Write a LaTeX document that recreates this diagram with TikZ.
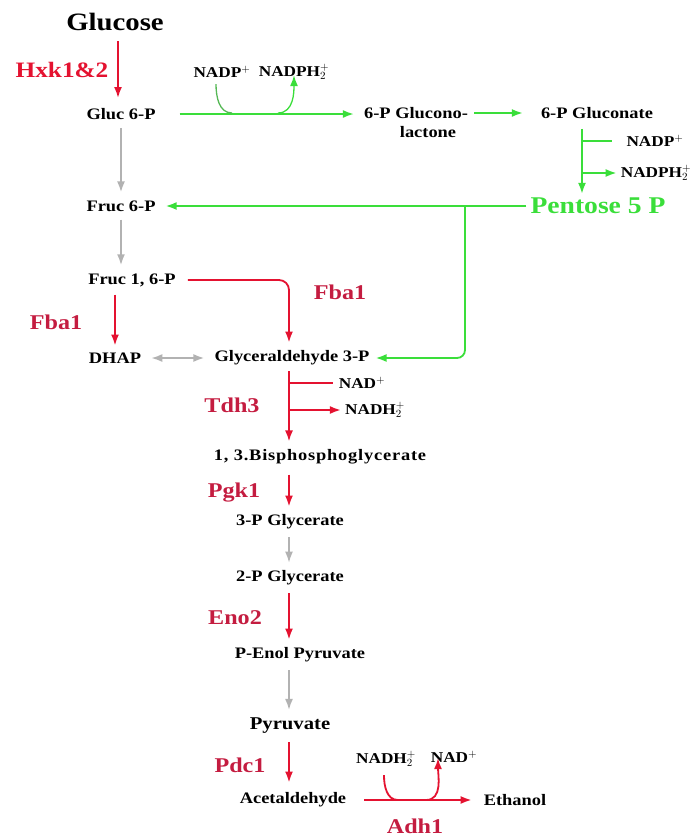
\documentclass[tikz,border=0pt]{standalone}
\usepackage{fontspec}
\setmainfont{Liberation Serif}[FakeStretch=1.15]
\usetikzlibrary{arrows.meta,calc,positioning}
\definecolor{pwred}{RGB}{228,18,48}
\definecolor{pwenz}{RGB}{196,28,64}
\definecolor{pwgreen}{RGB}{58,222,58}
\definecolor{pwgray}{RGB}{178,178,178}

\begin{document}
\begin{tikzpicture}[x=1pt,y=-1pt,>={Latex[length=11pt,width=8pt]},
    every node/.style={inner sep=0pt,align=center,font=\bfseries\fontsize{16}{18}\selectfont},
    cof/.style={font=\bfseries\fontsize{15}{17}\selectfont},
    enz/.style={text=pwenz,font=\bfseries\fontsize{21}{23}\selectfont},
    redarr/.style={draw=pwred,line width=1.8pt,->},
    grnarr/.style={draw=pwgreen,line width=1.8pt,->},
    grayarr/.style={draw=pwgray,line width=1.8pt,->}]
  \useasboundingbox (0,0) rectangle (697,839);
  % glucose to pentose shunt
  \node[font=\bfseries\fontsize{25}{27}\selectfont] (glucose) at (115,22) {Glucose};
  \node[enz,text=pwred,font=\bfseries\fontsize{22}{24}\selectfont] (hxk) at (62,70) {Hxk1\&2};
  \node (gluc6p) at (121,114) {Gluc 6-P};
  \node[cof] (nadp) at (222,72) {NADP$^+$};
  \node[cof] (nadph) at (294,72) {NADPH$_2^+$};
  \node (glucono) at (416,113) {6-P Glucono-};
  \node[below=7pt of glucono,xshift=12pt] (lactone) {lactone};
  \node (gluconate) at (597,113) {6-P Gluconate};
  \node[cof] (nadpb) at (655,141) {NADP$^+$};
  \node[cof] (nadphb) at (656,173) {NADPH$_2^+$};
  \node[text=pwgreen,font=\bfseries\fontsize{24}{26}\selectfont] (pentose) at (598,206) {Pentose 5 P};
  \node (fruc6p) at (121,206) {Fruc 6-P};
  \node (fruc16p) at (132,280) {Fruc 1, 6-P};
  \node[enz] (fbar) at (340,292) {Fba1};
  \node[enz] (fbal) at (56,322) {Fba1};
  \node (dhap) at (115,358) {DHAP};
  \node (glyc3p) at (292,358) {Glyceraldehyde 3-P};
  % lower glycolysis
  \node[cof] (nad) at (362,383) {NAD$^+$};
  \node[cof] (nadh) at (375,410) {NADH$_2^+$};
  \node[enz] (tdh) at (232,405) {Tdh3};
  \node[font=\bfseries\fontsize{16}{18}\selectfont\addfontfeature{LetterSpace=5}] (bpg) at (320,457) {1, 3.Bisphosphoglycerate};
  \node[enz] (pgk) at (234,493) {Pgk1};
  \node (pg3) at (290,522) {3-P Glycerate};
  \node (pg2) at (290,578) {2-P Glycerate};
  \node[enz] (eno) at (235,618) {Eno2};
  \node (pep) at (300,655) {P-Enol Pyruvate};
  \node[font=\bfseries\fontsize{18}{20}\selectfont] (pyr) at (290,726) {Pyruvate};
  \node[enz] (pdc) at (240,765) {Pdc1};
  \node (acet) at (293,800) {Acetaldehyde};
  \node (eth) at (515,800) {Ethanol};
  \node[enz] (adh) at (415,826) {Adh1};
  \node[cof] (nadhb) at (386,759) {NADH$_2^+$};
  \node[cof] (nadb) at (454,757) {NAD$^+$};
  \coordinate (jin) at (232,113);
  \coordinate (jout) at (278,113);
  \coordinate (jgn) at (582,141);
  \coordinate (jgh) at (582,173);
  \coordinate (jpt) at (465,206);
  \coordinate (jrn) at (289,383);
  \coordinate (jrh) at (289,410);
  \coordinate (jain) at (398,800);
  \coordinate (jaout) at (426,800);

  \draw[redarr,shorten <=10pt,shorten >=4pt] (glucose.south) ++(3,0) -- (118,102);
  \draw[grayarr,shorten <=8pt,shorten >=8pt] (gluc6p.south) -- (gluc6p.south |- fruc6p.north);
  \draw[grayarr,shorten <=8pt,shorten >=8pt] (fruc6p.south) -- (fruc6p.south |- fruc16p.north);
  \draw[redarr,shorten <=8pt,shorten >=7pt] (dhap.north |- fruc16p.south) -- (dhap.north);
  \draw[grayarr,<->,shorten <=10pt,shorten >=10pt] (dhap.east) -- (glyc3p.west);
  \draw[redarr,rounded corners=10pt,shorten <=12pt,shorten >=8pt] (fruc16p.east) -- (fruc16p.east -| jrn) -- (jrn |- glyc3p.north);
  % pentose branch
  \draw[grnarr,shorten <=24pt,shorten >=10pt] (gluc6p.east) -- (gluc6p.east -| glucono.west);
  \draw[draw=pwgreen!60!gray,line width=1.3pt] ([xshift=-6pt]nadp.south) ++(0,6) to[out=-90,in=180] (jin);
  \draw[draw=pwgreen,line width=1.3pt,->] (jout) to[out=0,in=-90] ([yshift=5pt]nadph.south);
  \draw[grnarr,shorten <=6pt,shorten >=18pt] (glucono.east) -- (gluconate.west);
  \draw[grnarr,shorten <=10pt,shorten >=4pt] (jgn |- gluconate.south) -- (jgn |- pentose.north);
  \draw[draw=pwgreen,line width=1.8pt] (jgn) -- ([xshift=-14pt]nadpb.west);
  \draw[grnarr] (jgh) -- ([xshift=-4pt]nadphb.west);
  \draw[grnarr,shorten <=4pt,shorten >=10pt] (pentose.west) -- (fruc6p.east);
  \draw[grnarr,rounded corners=8pt,shorten >=6pt] (jpt) -- (jpt |- glyc3p) -- (glyc3p.east);
  % glycolysis trunk
  \draw[redarr,shorten <=6pt,shorten >=8pt] (jrn |- glyc3p.south) -- (jrn |- bpg.north);
  \draw[draw=pwred,line width=1.8pt] (jrn) -- ([xshift=-6pt]nad.west);
  \draw[redarr] (jrh) -- ([xshift=-4pt]nadh.west);
  \draw[redarr,shorten <=10pt,shorten >=8pt] (jrn |- bpg.south) -- (jrn |- pg3.north);
  \draw[grayarr,line width=1.3pt,shorten <=8pt,shorten >=8pt] (jrn |- pg3.south) -- (jrn |- pg2.north);
  \draw[redarr,shorten <=8pt,shorten >=8pt] (jrn |- pg2.south) -- (jrn |- pep.north);
  \draw[grayarr,shorten <=8pt,shorten >=8pt] (jrn |- pep.south) -- (jrn |- pyr.north);
  \draw[redarr,shorten <=8pt,shorten >=10pt] (jrn |- pyr.south) -- (jrn |- acet.north);
  % ethanol step
  \draw[redarr,shorten <=18pt,shorten >=12pt] (acet.east) -- (eth.west);
  \draw[draw=pwred,line width=1.8pt] ([xshift=-2pt]nadhb.south) ++(0,8) to[out=-90,in=180] (jain);
  \draw[redarr] (jaout) to[out=0,in=-90] ([xshift=-16pt,yshift=5pt]nadb.south);
\end{tikzpicture}
\end{document}
